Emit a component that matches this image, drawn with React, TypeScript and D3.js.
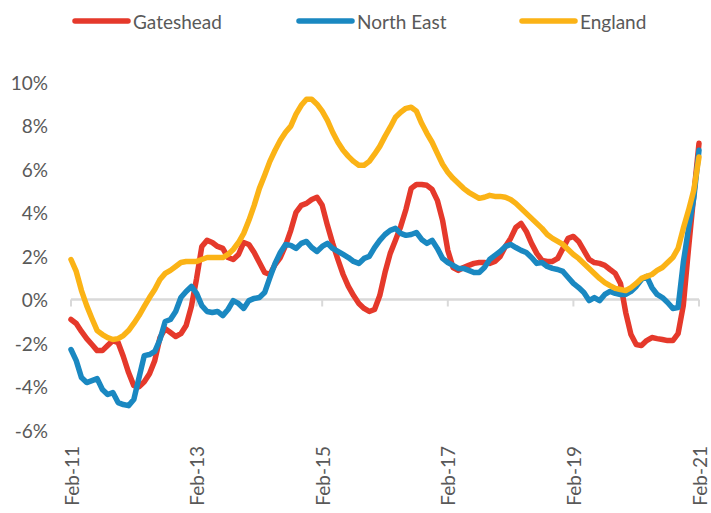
import { useEffect, useRef } from "react";
import * as d3 from "d3";

// monthly, Feb-11 .. Feb-21 (121 points), % change
const gateshead = [
  -0.92, -1.1, -1.47, -1.8, -2.07, -2.35, -2.35, -2.12, -1.89, -1.98,
  -2.62, -3.36, -3.96, -4.01, -3.78, -3.41, -2.81, -1.75, -1.34, -1.52,
  -1.7, -1.57, -1.2, -0.32, 0.97, 2.44, 2.72, 2.62, 2.44, 2.35,
  1.93, 1.84, 2.07, 2.62, 2.53, 2.16, 1.7, 1.24, 1.15, 1.61,
  1.93, 2.49, 3.18, 4.01, 4.33, 4.42, 4.6, 4.7, 4.33, 3.41,
  2.58, 1.84, 1.15, 0.6, 0.18, -0.18, -0.41, -0.55, -0.46, 0.18,
  1.24, 2.12, 2.72, 3.36, 4.14, 5.11, 5.29, 5.29, 5.25, 5.06,
  4.56, 3.64, 2.26, 1.47, 1.34, 1.47, 1.57, 1.66, 1.7, 1.7,
  1.66, 1.75, 1.98, 2.44, 2.81, 3.31, 3.5, 3.13, 2.58, 2.12,
  1.8, 1.75, 1.75, 1.89, 2.35, 2.81, 2.9, 2.67, 2.26, 1.84,
  1.7, 1.66, 1.57, 1.38, 1.2, 0.74, -0.6, -1.61, -2.07, -2.12,
  -1.89, -1.75, -1.8, -1.84, -1.89, -1.89, -1.57, -0.28, 2.35, 4.79,
  7.18,
];

const northEast = [
  -2.3, -2.81, -3.59, -3.82, -3.73, -3.64, -4.14, -4.37, -4.28, -4.74,
  -4.83, -4.88, -4.6, -3.59, -2.58, -2.53, -2.39, -1.84, -1.01, -0.92,
  -0.55, 0.09, 0.37, 0.6, 0.28, -0.28, -0.55, -0.6, -0.55, -0.74,
  -0.46, -0.05, -0.18, -0.41, -0.05, 0.05, 0.09, 0.32, 1.01, 1.66,
  2.16, 2.53, 2.49, 2.35, 2.58, 2.67, 2.39, 2.21, 2.44, 2.58,
  2.35, 2.21, 2.07, 1.93, 1.75, 1.66, 1.89, 1.98, 2.39, 2.72,
  2.99, 3.18, 3.27, 3.04, 2.95, 2.99, 3.08, 2.76, 2.58, 2.72,
  2.35, 1.89, 1.7, 1.57, 1.43, 1.43, 1.34, 1.24, 1.24, 1.47,
  1.84, 2.03, 2.21, 2.44, 2.53, 2.39, 2.26, 2.16, 1.93, 1.66,
  1.7, 1.52, 1.43, 1.38, 1.29, 1.01, 0.74, 0.55, 0.32, -0.05,
  0.09, -0.05, 0.23, 0.37, 0.28, 0.23, 0.23, 0.37, 0.6, 0.92,
  1.06, 0.55, 0.23, 0.09, -0.14, -0.41, -0.37, 1.7, 3.27, 4.65,
  6.86,
];

const england = [
  1.84, 1.29, 0.41, -0.28, -0.87, -1.43, -1.61, -1.75, -1.84, -1.8,
  -1.66, -1.43, -1.1, -0.74, -0.32, 0.09, 0.46, 0.92, 1.2, 1.34,
  1.52, 1.7, 1.75, 1.75, 1.75, 1.84, 1.93, 1.93, 1.93, 1.93,
  2.07, 2.3, 2.62, 3.04, 3.64, 4.33, 5.11, 5.71, 6.35, 6.86,
  7.32, 7.69, 7.97, 8.52, 8.93, 9.21, 9.21, 8.98, 8.66, 8.24,
  7.69, 7.23, 6.86, 6.58, 6.35, 6.17, 6.17, 6.35, 6.68, 7.04,
  7.5, 7.92, 8.38, 8.61, 8.79, 8.84, 8.66, 8.1, 7.64, 7.23,
  6.72, 6.22, 5.85, 5.57, 5.34, 5.11, 4.93, 4.79, 4.65, 4.7,
  4.79, 4.74, 4.74, 4.7, 4.6, 4.42, 4.19, 3.96, 3.73, 3.5,
  3.27, 2.99, 2.81, 2.67, 2.53, 2.3, 2.07, 1.89, 1.66, 1.43,
  1.2, 0.97, 0.78, 0.64, 0.51, 0.46, 0.41, 0.55, 0.74, 0.97,
  1.06, 1.15, 1.34, 1.47, 1.7, 1.93, 2.35, 3.27, 4.1, 5.02,
  6.55,
];

const xTickLabels = ["Feb-11", "Feb-13", "Feb-15", "Feb-17", "Feb-19", "Feb-21"];
const yTicks = [-6, -4, -2, 0, 2, 4, 6, 8, 10];

const series = [
  { name: "Gateshead", values: gateshead, color: "#E5392B" },
  { name: "North East", values: northEast, color: "#1A88C1" },
  { name: "England", values: england, color: "#FBB316" },
];

const App = () => {
  const svgRef = useRef<SVGSVGElement>(null);

  useEffect(() => {
    const width = 711;
    const height = 513;
    const font = "Lato, 'Open Sans', sans-serif";
    const textColor = "#595959";

    const svg = d3.select(svgRef.current);
    svg.selectAll("*").remove();

    const n = gateshead.length;
    const x = d3.scaleLinear().domain([0, n - 1]).range([71, 699]);
    const y = d3.scaleLinear().domain([-6, 10]).range([430, 82]);

    // y labels
    svg.append("g")
      .selectAll("text")
      .data(yTicks)
      .join("text")
      .attr("x", 48)
      .attr("y", d => y(d))
      .attr("text-anchor", "end")
      .attr("dominant-baseline", "central")
      .attr("font-family", font)
      .attr("font-size", 19)
      .attr("fill", textColor)
      .text(d => `${d}%`);

    // zero axis + ticks
    svg.append("line")
      .attr("x1", x(0))
      .attr("x2", x(n - 1))
      .attr("y1", y(0))
      .attr("y2", y(0))
      .attr("stroke", "#D9D9D9")
      .attr("stroke-width", 2.5);

    svg.append("g")
      .selectAll("line")
      .data(xTickLabels)
      .join("line")
      .attr("x1", (_, i) => x(i * 24))
      .attr("x2", (_, i) => x(i * 24))
      .attr("y1", y(0))
      .attr("y2", y(0) + 7)
      .attr("stroke", "#D9D9D9")
      .attr("stroke-width", 2);

    // x labels (bottom, rotated)
    svg.append("g")
      .selectAll("text")
      .data(xTickLabels)
      .join("text")
      .attr("transform", (_, i) => `translate(${x(i * 24)},446) rotate(-90)`)
      .attr("text-anchor", "end")
      .attr("dominant-baseline", "central")
      .attr("font-family", font)
      .attr("font-size", 19)
      .attr("fill", textColor)
      .text(d => d);

    // lines
    const line = d3.line<number>()
      .x((_, i) => x(i))
      .y(d => y(d));

    svg.append("g")
      .selectAll("path")
      .data(series)
      .join("path")
      .attr("d", d => line(d.values))
      .attr("fill", "none")
      .attr("stroke", d => d.color)
      .attr("stroke-width", 5.5)
      .attr("stroke-linejoin", "round")
      .attr("stroke-linecap", "round");

    // legend
    const legendX = [75, 299, 522];
    const lg = svg.append("g")
      .selectAll("g")
      .data(series)
      .join("g")
      .attr("transform", (_, i) => `translate(${legendX[i]},21)`);

    lg.append("line")
      .attr("x1", 0)
      .attr("x2", 53)
      .attr("stroke", d => d.color)
      .attr("stroke-width", 5.5)
      .attr("stroke-linecap", "round");

    lg.append("text")
      .attr("x", 58)
      .attr("dominant-baseline", "central")
      .attr("font-family", font)
      .attr("font-size", 19)
      .attr("fill", textColor)
      .text(d => d.name);

    svg.attr("width", width).attr("height", height);
  }, []);

  return (
    <svg
      ref={svgRef}
      width={711}
      height={513}
      style={{ position: "absolute", left: 0, top: 0, background: "#fff" }}
    />
  );
};

export default App;
